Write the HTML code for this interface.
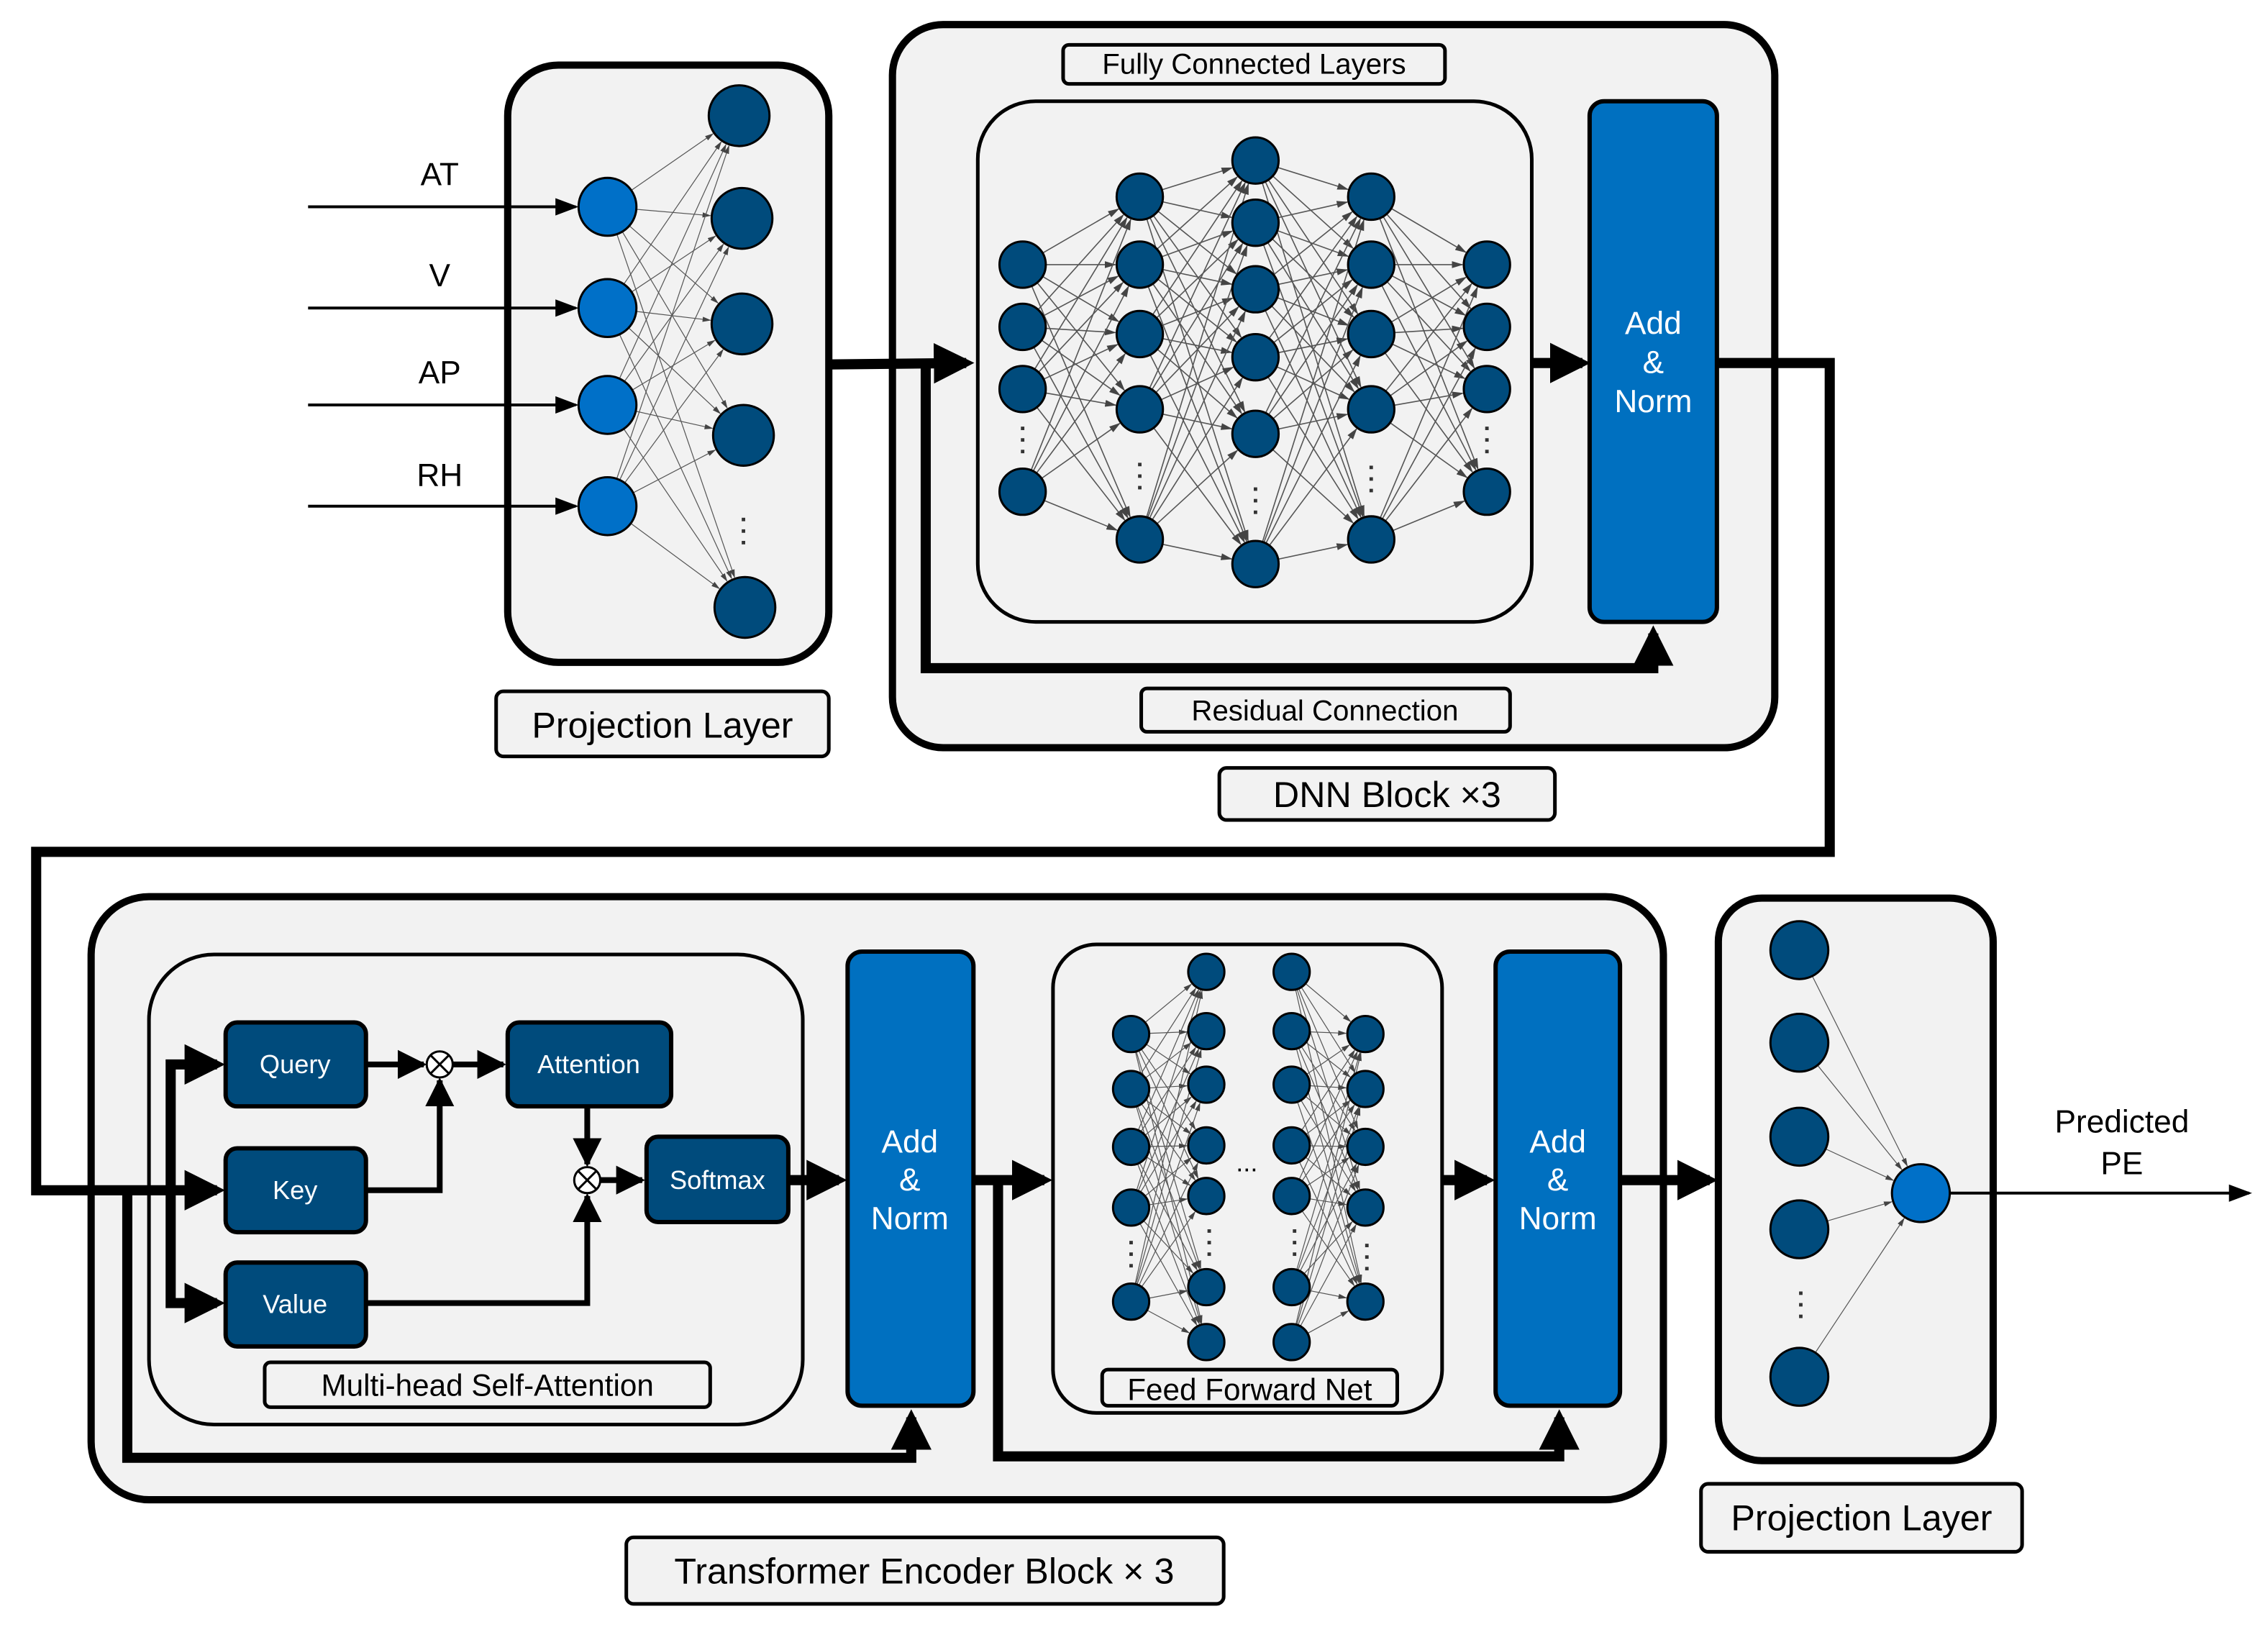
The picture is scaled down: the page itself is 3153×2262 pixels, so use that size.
<!DOCTYPE html>
<html><head><meta charset="utf-8">
<style>
html,body{margin:0;padding:0;background:#fff;}
svg{display:block;}
text{font-family:"Liberation Sans","DejaVu Sans",sans-serif;}
</style></head>
<body>
<svg id="s" xmlns="http://www.w3.org/2000/svg" width="3153" height="2262" viewBox="0 0 1568 1125" preserveAspectRatio="none">
<defs>
<marker id="big" markerWidth="4" markerHeight="4" refX="3.2" refY="2" orient="auto" markerUnits="strokeWidth"><path d="M0,0 L4,2 L0,4 z" fill="#000"/></marker>
<marker id="sm" markerWidth="8" markerHeight="8" refX="7" refY="4" orient="auto" markerUnits="strokeWidth"><path d="M0,1 L8,4 L0,7 z" fill="#000"/></marker>
<marker id="mid" markerWidth="5" markerHeight="5" refX="4.5" refY="2.5" orient="auto" markerUnits="strokeWidth"><path d="M0,0 L5,2.5 L0,5 z" fill="#000"/></marker>
<marker id="g" markerWidth="10" markerHeight="10" refX="9" refY="5" orient="auto" markerUnits="strokeWidth"><path d="M0,2 L10,5 L0,8 z" fill="#444"/></marker>
</defs>

<!-- containers -->
<rect x="351" y="45" width="222" height="413" rx="35" fill="#f2f2f2" stroke="#000" stroke-width="5"/>
<rect x="617" y="17" width="610" height="500" rx="35" fill="#f2f2f2" stroke="#000" stroke-width="5"/>
<rect x="676" y="70" width="383" height="360" rx="40" fill="#f2f2f2" stroke="#000" stroke-width="2.5"/>
<rect x="63" y="620" width="1087" height="417" rx="40" fill="#f2f2f2" stroke="#000" stroke-width="5"/>
<rect x="103" y="660" width="452" height="325" rx="45" fill="#f2f2f2" stroke="#000" stroke-width="2.5"/>
<rect x="728" y="653" width="269" height="324" rx="30" fill="#f2f2f2" stroke="#000" stroke-width="2.5"/>
<rect x="1188" y="621" width="190" height="389" rx="30" fill="#f2f2f2" stroke="#000" stroke-width="5"/>

<g id="net"></g>

<!-- input lines -->
<g stroke="#000" stroke-width="2" fill="none">
<line x1="213" y1="143" x2="398" y2="143" marker-end="url(#sm)"/>
<line x1="213" y1="213" x2="398" y2="213" marker-end="url(#sm)"/>
<line x1="213" y1="280" x2="398" y2="280" marker-end="url(#sm)"/>
<line x1="213" y1="350" x2="398" y2="350" marker-end="url(#sm)"/>
</g>
<g font-size="22" text-anchor="middle" fill="#000">
<text x="304" y="128">AT</text><text x="304" y="198">V</text><text x="304" y="265">AP</text><text x="304" y="336">RH</text>
</g>

<!-- thick connectors -->
<g stroke="#000" stroke-width="7" fill="none" stroke-linejoin="miter">
<polyline points="573,252 668,251" marker-end="url(#big)"/>
<polyline points="640,252 640,462 1143,462 1143,438" marker-end="url(#big)"/>
<polyline points="1059,251 1094,251" marker-end="url(#big)"/>
<polyline points="1187,251 1265,251 1265,589 25,589 25,823 150,823" marker-end="url(#big)"/>
<polyline points="118,823 118,736 150,736" marker-end="url(#big)"/>
<polyline points="118,823 118,901 150,901" marker-end="url(#big)"/>
<polyline points="88,823 88,1008 630,1008 630,980" marker-end="url(#big)"/>
<polyline points="545,816 580,816" marker-end="url(#big)"/>
<polyline points="673,816 722,816" marker-end="url(#big)"/>
<polyline points="690,816 690,1007 1078,1007 1078,980" marker-end="url(#big)"/>
<polyline points="997,816 1028,816" marker-end="url(#big)"/>
<polyline points="1120,816 1182,816" marker-end="url(#big)"/>
</g>
<g stroke="#000" stroke-width="4" fill="none">
<polyline points="253,736 293,736" marker-end="url(#mid)"/>
<polyline points="313,736 348,736" marker-end="url(#mid)"/>
<polyline points="253,823 304,823 304,747" marker-end="url(#mid)"/>
<polyline points="406,765 406,805" marker-end="url(#mid)"/>
<polyline points="253,901 406,901 406,827" marker-end="url(#mid)"/>
<polyline points="415,816 444,816" marker-end="url(#mid)"/>
</g>
<g fill="#fff" stroke="#000" stroke-width="1.5">
<circle cx="304" cy="736" r="9"/><path d="M297.6,729.6 L310.4,742.4 M310.4,729.6 L297.6,742.4"/>
<circle cx="406" cy="816" r="9"/><path d="M399.6,809.6 L412.4,822.4 M412.4,809.6 L399.6,822.4"/>
</g>

<!-- blue blocks -->
<g stroke="#000" stroke-width="3">
<rect x="1099" y="70" width="88" height="360" rx="10" fill="#0070c0"/>
<rect x="586" y="658" width="87" height="314" rx="10" fill="#0070c0"/>
<rect x="1034" y="658" width="86" height="314" rx="10" fill="#0070c0"/>
<rect x="156" y="707" width="97" height="58" rx="8" fill="#004b7c"/>
<rect x="156" y="794" width="97" height="58" rx="8" fill="#004b7c"/>
<rect x="156" y="873" width="97" height="58" rx="8" fill="#004b7c"/>
<rect x="351" y="707" width="113" height="58" rx="8" fill="#004b7c"/>
<rect x="447" y="786" width="98" height="59" rx="8" fill="#004b7c"/>
</g>
<g fill="#fff" text-anchor="middle" font-size="22">
<text x="1143" y="231">Add</text><text x="1143" y="258">&amp;</text><text x="1143" y="285">Norm</text>
<text x="629" y="797">Add</text><text x="629" y="823">&amp;</text><text x="629" y="850">Norm</text>
<text x="1077" y="797">Add</text><text x="1077" y="823">&amp;</text><text x="1077" y="850">Norm</text>
</g>
<g fill="#fff" text-anchor="middle" font-size="18">
<text x="204" y="742">Query</text><text x="204" y="829">Key</text><text x="204" y="908">Value</text>
<text x="407" y="742">Attention</text><text x="496" y="822">Softmax</text>
</g>

<!-- labels -->
<g fill="#f2f2f2" stroke="#000" stroke-width="2.5">
<rect x="343" y="478" width="230" height="45" rx="5"/>
<rect x="735" y="31" width="264" height="27" rx="4"/>
<rect x="789" y="476" width="255" height="30" rx="4"/>
<rect x="843" y="531" width="232" height="36" rx="5"/>
<rect x="183" y="942" width="308" height="31" rx="4"/>
<rect x="762" y="947" width="204" height="25" rx="4"/>
<rect x="1176" y="1026" width="222" height="47" rx="5"/>
<rect x="433" y="1063" width="413" height="46" rx="5"/>
</g>
<g fill="#000" text-anchor="middle">
<text x="458" y="510" font-size="25">Projection Layer</text>
<text x="867" y="51" font-size="20">Fully Connected Layers</text>
<text x="916" y="498" font-size="20">Residual Connection</text>
<text x="959" y="558" font-size="25">DNN Block ×3</text>
<text x="337" y="965" font-size="21">Multi-head Self-Attention</text>
<text x="864" y="968" font-size="21">Feed Forward Net</text>
<text x="1287" y="1058" font-size="25">Projection Layer</text>
<text x="639" y="1095" font-size="25">Transformer Encoder Block × 3</text>
<text x="1467" y="783" font-size="22">Predicted</text>
<text x="1467" y="812" font-size="22">PE</text>
<text x="862" y="810" font-size="18">...</text>
</g>
<line x1="1348" y1="825" x2="1555" y2="825" stroke="#000" stroke-width="2" marker-end="url(#sm)"/>
</svg>
<script>
(function(){
var NS="http://www.w3.org/2000/svg",g=document.getElementById("net");
function el(n,a){var e=document.createElementNS(NS,n);for(var k in a)e.setAttribute(k,a[k]);g.appendChild(e);return e;}
function conn(A,B,w){A.forEach(function(a){B.forEach(function(b){
 var dx=b[0]-a[0],dy=b[1]-a[1],L=Math.sqrt(dx*dx+dy*dy);
 el("line",{x1:a[0]+dx/L*a[2],y1:a[1]+dy/L*a[2],x2:b[0]-dx/L*(b[2]+1),y2:b[1]-dy/L*(b[2]+1),stroke:"#555","stroke-width":w||0.8,"marker-end":"url(#g)"});});});}
function col(x,ys,r){return ys.map(function(y){return [x,y,r];});}
function nodes(C,fill){C.forEach(function(c){el("circle",{cx:c[0],cy:c[1],r:c[2],fill:fill,stroke:"#000","stroke-width":1.5});});}
function dots(x,y){for(var i=0;i<3;i++)el("rect",{x:x-1.2,y:y-8+i*8,width:2.4,height:2.4,fill:"#333"});}
// projection 1
var pin=col(420,[143,213,280,350],20),pout=[[511,80,21],[513,151,21],[513,224,21],[514,301,21],[515,420,21]];
conn(pin,pout,0.6);nodes(pin,"#0070c8");nodes(pout,"#004b7c");dots(514,366);
// DNN
var c1=col(707,[183,226,269,340],16),c2=col(788,[136,183,231,283,373],16),c3=col(868,[111,154,200,247,300,390],16),c4=col(948,[136,183,231,283,373],16),c5=col(1028,[183,226,269,340],16);
conn(c1,c2);conn(c2,c3);conn(c3,c4);conn(c4,c5);
[c1,c2,c3,c4,c5].forEach(function(c){nodes(c,"#004b7c");});
dots(707,303);dots(788,328);dots(868,345);dots(948,330);dots(1028,303);
// FFN
var f1=col(782,[715,753,793,835,900],12.5),f2=col(834,[672,713,750,792,827,890,928],12.5),f3=col(893,[672,713,750,792,827,890,928],12.5),f4=col(944,[715,753,793,835,900],12.5);
conn(f1,f2,0.6);conn(f3,f4,0.6);
[f1,f2,f3,f4].forEach(function(c){nodes(c,"#004b7c");});
dots(782,866);dots(836,858);dots(895,858);dots(945,868);
// output proj
var o=col(1244,[657,721,786,850,952],20),on=[[1328,825,20]];
conn(o,on,0.6);nodes(o,"#004b7c");nodes(on,"#0070c8");dots(1245,901);
})();
</script>
</body></html>
